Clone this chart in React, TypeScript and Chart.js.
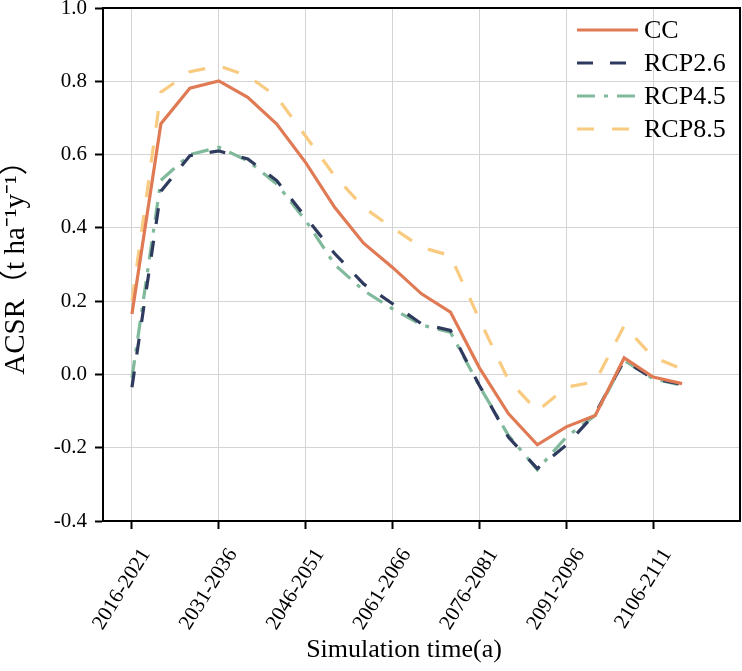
import React, { useEffect, useRef } from "react";
import { Chart, registerables } from "chart.js";

Chart.register(...registerables);

const categories = [
  "2016-2021", "2021-2026", "2026-2031", "2031-2036", "2036-2041",
  "2041-2046", "2046-2051", "2051-2056", "2056-2061", "2061-2066",
  "2066-2071", "2071-2076", "2076-2081", "2081-2086", "2086-2091",
  "2091-2096", "2096-2101", "2101-2106", "2106-2111", "2111-2116",
];

const ccValues = [0.165, 0.684, 0.781, 0.801, 0.756, 0.683, 0.578, 0.456, 0.358, 0.292, 0.22, 0.17, 0.018, -0.107, -0.192, -0.143, -0.112, 0.045, -0.007, -0.025];
const rcp26Values = [-0.035, 0.5, 0.597, 0.61, 0.588, 0.529, 0.429, 0.33, 0.247, 0.193, 0.138, 0.12, -0.03, -0.171, -0.257, -0.193, -0.107, 0.038, -0.012, -0.027];
const rcp45Values = [-0.01, 0.53, 0.6, 0.62, 0.583, 0.52, 0.42, 0.3, 0.229, 0.179, 0.135, 0.115, -0.032, -0.166, -0.26, -0.171, -0.112, 0.038, -0.012, -0.03];
const rcp85Values = [0.2, 0.77, 0.826, 0.842, 0.815, 0.758, 0.65, 0.542, 0.456, 0.4, 0.347, 0.324, 0.15, -0.015, -0.1, -0.035, -0.02, 0.133, 0.047, 0.015];

const xTickIndices = [0, 3, 6, 9, 12, 15, 18];
const yTicks = [-0.4, -0.2, 0.0, 0.2, 0.4, 0.6, 0.8, 1.0];

const xTitle = "Simulation time(a)";
const yTitle = "ACSR（t ha⁻¹y⁻¹）";

const FONT = "'Liberation Serif', 'Times New Roman', 'Noto Sans CJK SC', serif";

const toPoints = (vals: number[]) => vals.map((y, i) => ({ x: i, y }));

const framePlugin = {
  id: "frameAndLegend",
  afterDatasetsDraw(chart: any) {
    const { ctx, chartArea } = chart;
    ctx.save();
    ctx.strokeStyle = "#000";
    ctx.lineWidth = 2;
    ctx.strokeRect(chartArea.left, chartArea.top, chartArea.right - chartArea.left, chartArea.bottom - chartArea.top);
    // legend
    const x0 = 577;
    const x1 = 638;
    const yStart = 30;
    const step = 33;
    ctx.font = `26px ${FONT}`;
    ctx.textBaseline = "middle";
    ctx.textAlign = "left";
    chart.data.datasets.forEach((ds: any, i: number) => {
      const y = yStart + i * step;
      ctx.beginPath();
      ctx.strokeStyle = ds.borderColor;
      ctx.lineWidth = ds.borderWidth;
      ctx.setLineDash(ds.borderDash || []);
      ctx.moveTo(x0, y);
      ctx.lineTo(x1, y);
      ctx.stroke();
      ctx.setLineDash([]);
      ctx.fillStyle = "#000";
      ctx.fillText(ds.label, x1 + 6, y + 1);
    });
    // axis titles
    ctx.fillStyle = "#000";
    ctx.font = `26px ${FONT}`;
    ctx.textAlign = "center";
    ctx.textBaseline = "alphabetic";
    ctx.fillText(xTitle, 404, 657);
    ctx.translate(24, (chartArea.top + chartArea.bottom) / 2 - 4);
    ctx.rotate(-Math.PI / 2);
    ctx.font = `29px ${FONT}`;
    ctx.fillText(yTitle, 0, 0);
    ctx.restore();
  },
};

export default function App() {
  const ref = useRef<HTMLCanvasElement | null>(null);
  useEffect(() => {
    if (!ref.current) return;
    const chart = new Chart(ref.current, {
      type: "line",
      data: {
        datasets: [
          { label: "CC", data: toPoints(ccValues), borderColor: "#E07A55", borderWidth: 3.2, borderDash: [], pointRadius: 0 },
          { label: "RCP2.6", data: toPoints(rcp26Values), borderColor: "#2F3B5E", borderWidth: 3.2, borderDash: [16, 17], pointRadius: 0 },
          { label: "RCP4.5", data: toPoints(rcp45Values), borderColor: "#80B99B", borderWidth: 3.2, borderDash: [18, 9, 4, 9], pointRadius: 0 },
          { label: "RCP8.5", data: toPoints(rcp85Values), borderColor: "#F8CB80", borderWidth: 3.2, borderDash: [17, 18], pointRadius: 0 },
        ],
      },
      options: {
        animation: false,
        responsive: false,
        layout: { padding: { top: 8, right: 2, left: 0, bottom: 0 } },
        plugins: { legend: { display: false }, tooltip: { enabled: false } },
        scales: {
          x: {
            type: "linear",
            min: -1,
            max: 21,
            afterBuildTicks: (scale: any) => {
              scale.ticks = xTickIndices.map((v) => ({ value: v }));
            },
            afterFit: (scale: any) => {
              scale.height = 150;
              scale.paddingLeft = 0;
              scale.paddingRight = 0;
            },
            ticks: {
              autoSkip: false,
              maxRotation: 58,
              minRotation: 58,
              padding: 15,
              labelOffset: 14,
              color: "#000",
              font: { family: FONT, size: 21 },
              callback: (v: any) => categories[v as number] ?? "",
            },
            grid: { color: "#d4d4d4", lineWidth: 1, tickColor: "#000", tickLength: 8, tickWidth: 2 },
            border: { display: true, color: "#000", width: 2 },
            title: { display: false },
          },
          y: {
            type: "linear",
            min: -0.4,
            max: 1.0,
            afterBuildTicks: (scale: any) => {
              scale.ticks = yTicks.map((v) => ({ value: v }));
            },
            afterFit: (scale: any) => {
              scale.width = 103;
              scale.paddingTop = 0;
              scale.paddingBottom = 0;
            },
            ticks: {
              padding: 8,
              color: "#000",
              font: { family: FONT, size: 21 },
              callback: (v: any) => Number(v).toFixed(1),
            },
            grid: { color: "#d4d4d4", lineWidth: 1, tickColor: "#000", tickLength: 8, tickWidth: 2 },
            border: { display: true, color: "#000", width: 2 },
            title: { display: false },
          },
        },
      },
      plugins: [framePlugin],
    });
    return () => chart.destroy();
  }, []);
  return (
    <canvas
      ref={ref}
      width={742}
      height={671}
      style={{ position: "absolute", left: 0, top: 0, width: 742, height: 671 }}
    />
  );
}
